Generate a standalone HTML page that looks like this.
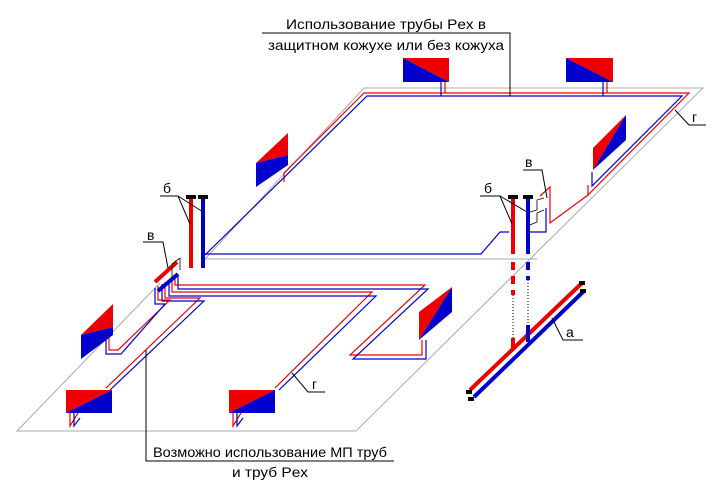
<!DOCTYPE html><html><head><meta charset="utf-8"><style>body{margin:0;background:#fff}svg{display:block}text{font-family:"Liberation Sans",sans-serif;font-size:14px;fill:#000}</style></head><body>
<svg width="723" height="500" viewBox="0 0 723 500" xmlns="http://www.w3.org/2000/svg" fill="none">
<g stroke="#aaa" stroke-width="1">
<polyline points="205,259 364,88 703,88 356,431 17,431 160,283"/>
<line x1="205" y1="259" x2="537" y2="259"/>
</g>
<g stroke-width="1.2">
<polyline stroke="#e00" points="284,182 284,173 364,93 689,93 588,195 588,185"/>
<polyline stroke="#00c" points="205,255 367,96 682,96 592,186 592,172"/>
<polyline stroke="#e00" points="588,195 550,223 550,187 540,196"/>
<polyline stroke="#00c" points="205,254 481,254 500,232 509,232"/>
<polyline stroke="#00c" points="546,208 546,232 530,232"/>
<line stroke="#00c" x1="441" y1="82" x2="441" y2="96"/><line stroke="#e00" x1="445" y1="82" x2="445" y2="93"/>
<line stroke="#00c" x1="603" y1="82" x2="603" y2="96"/><line stroke="#e00" x1="607" y1="82" x2="607" y2="93"/>
<!-- lower loops -->
<polyline stroke="#e00" points="175,276 175,285 425,285 350,355 422,355 422,340"/>
<polyline stroke="#00c" points="178,276 178,289 428,289 353,359 426,359 426,340"/>
<polyline stroke="#e00" points="172,278 172,292 372,292 275,388"/>
<polyline stroke="#00c" points="169,280 169,296 376,296 279,390"/>
<polyline stroke="#e00" points="165,282 165,298 200,298 106,388"/>
<polyline stroke="#00c" points="162,284 162,301 204,301 110,390"/>
<polyline stroke="#e00" points="158,286 158,300 170,300 118,350 109,350 109,336"/>
<polyline stroke="#00c" points="155,288 155,304 165,304 121,354 106,354 106,336"/>
<polyline stroke="#e00" points="70,413 70,426 78,413"/><polyline stroke="#00c" points="74,413 74,426 80,418"/>
<polyline stroke="#e00" points="233,413 233,426 241,413"/><polyline stroke="#00c" points="237,413 237,426 243,418"/>
</g>
<g stroke-width="4">
<line stroke="#e00" x1="191" y1="198" x2="191" y2="268"/>
<line stroke="#00c" x1="203" y1="198" x2="203" y2="268"/>
<line stroke="#e00" x1="155" y1="282" x2="177" y2="262"/>
<line stroke="#00c" x1="158" y1="291" x2="178" y2="274"/>
<line stroke="#e00" x1="513" y1="198" x2="513" y2="254"/>
<line stroke="#00c" x1="528" y1="198" x2="528" y2="254"/>
<line stroke="#e00" x1="513" y1="262" x2="513" y2="295" stroke-dasharray="8,6"/>
<line stroke="#00c" x1="528" y1="262" x2="528" y2="280" stroke-dasharray="8,6"/>
<line stroke="#e00" x1="470" y1="390" x2="582" y2="283"/>
<line stroke="#00c" x1="474" y1="397" x2="584" y2="291"/>
<line stroke="#e00" x1="513" y1="338" x2="513" y2="348"/>
<line stroke="#00c" x1="528" y1="325" x2="528" y2="342"/>
</g>
<g stroke="#000" stroke-width="1">
<line x1="513" y1="295" x2="513" y2="338" stroke-dasharray="1,2"/>
<line x1="528" y1="280" x2="528" y2="325" stroke-dasharray="1,2"/>
</g>
<g fill="#000"><rect x="186" y="195" width="10" height="4"/><rect x="198" y="195" width="10" height="4"/>
<rect x="508" y="195" width="10" height="4"/><rect x="523" y="195" width="10" height="4"/>
<rect x="579" y="281" width="6" height="4"/><rect x="580" y="289" width="6" height="4"/><rect x="466" y="390" width="6" height="4"/><rect x="468" y="397" width="6" height="4"/></g>
<polygon fill="#e00" points="403,58 449,58 449,82"/><polygon fill="#00c" points="403,58 449,82 403,82"/>
<polygon fill="#e00" points="566,58 613,58 613,82"/><polygon fill="#00c" points="566,58 613,82 566,82"/>
<polygon fill="#e00" points="66,390 112,390 66,413"/><polygon fill="#00c" points="112,390 112,413 66,413"/>
<polygon fill="#e00" points="229,390 275,390 229,413"/><polygon fill="#00c" points="275,390 275,413 229,413"/>
<polygon fill="#e00" points="256,163 288,133 288,155"/><polygon fill="#00c" points="256,163 288,155 288,165 256,187"/>
<polygon fill="#e00" points="593,148 626,115 593,170"/><polygon fill="#00c" points="626,115 626,140 593,170"/>
<polygon fill="#e00" points="81,335 113,304 113,327"/><polygon fill="#00c" points="81,335 113,327 113,335 81,359"/>
<polygon fill="#e00" points="419,312 452,287 419,340"/><polygon fill="#00c" points="452,287 452,312 419,340"/>
<g stroke="#000" stroke-width="1">
<polyline points="262,33 510,33 510,96"/>
<polyline points="675,110 689,125 706,125"/>
<polyline points="146,350 146,461 394,461"/>
<polyline points="292,373 308,392 325,392"/>
<polyline points="552,318 563,340 583,340"/>
<polyline points="160,196 178,196 190,224"/><line x1="178" y1="196" x2="203" y2="212"/>
<polyline points="143,242 163,242 168,268"/>
<polyline points="480,196 500,196 512,224"/><line x1="500" y1="196" x2="527" y2="212"/>
<polyline points="523,170 542,170 547,198"/>
</g>
<g stroke="#000" stroke-width="0.8"><polyline points="172,278 172,264 180,258 180,270"/><polyline points="530,212 537,210 537,200 544,198"/><polyline points="530,225 537,222 537,213 544,210"/></g>
<text x="386" y="29" text-anchor="middle" textLength="200" lengthAdjust="spacingAndGlyphs">Использование трубы Pex в</text>
<text x="386" y="50" text-anchor="middle" textLength="236" lengthAdjust="spacingAndGlyphs">защитном кожухе или без кожуха</text>
<text x="270" y="457" text-anchor="middle" textLength="234" lengthAdjust="spacingAndGlyphs">Возможно использование МП труб</text>
<text x="270" y="477" text-anchor="middle" textLength="76" lengthAdjust="spacingAndGlyphs">и труб Pex</text>
<text x="163" y="193">б</text><text x="484" y="193">б</text>
<text x="147" y="240">в</text><text x="525" y="167">в</text>
<text x="692" y="122">г</text><text x="312" y="389">г</text><text x="566" y="337">а</text>
</svg></body></html>
